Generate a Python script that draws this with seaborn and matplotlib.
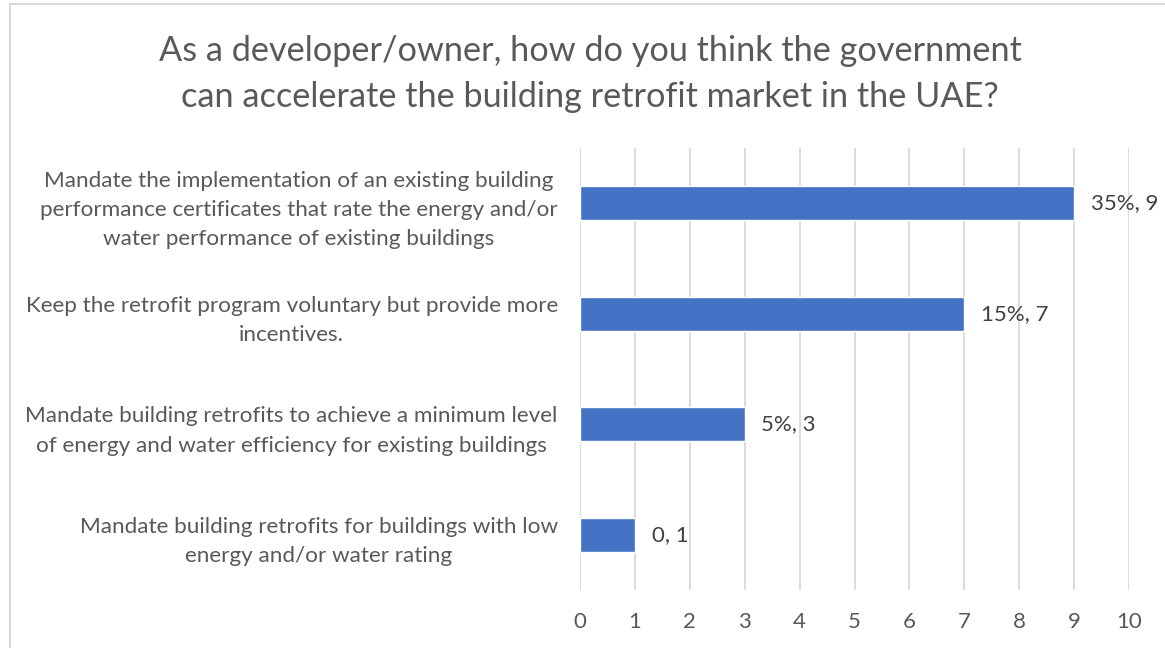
import matplotlib
matplotlib.use("Agg")
import matplotlib.pyplot as plt
import matplotlib.patches as mpatches
import seaborn as sns
import pandas as pd

categories = [
    "Mandate the implementation of an existing building\nperformance certificates that rate the energy and/or\nwater performance of existing buildings",
    "Keep the retrofit program voluntary but provide more\nincentives.",
    "Mandate building retrofits to achieve a minimum level\nof energy and water efficiency for existing buildings",
    "Mandate building retrofits for buildings with low\nenergy and/or water rating",
]
counts = [9, 7, 3, 1]
bar_labels = ["35%, 9", "15%, 7", "5%, 3", "0, 1"]
x_ticks = [0, 1, 2, 3, 4, 5, 6, 7, 8, 9, 10]
title = "As a developer/owner, how do you think the government\ncan accelerate the building retrofit market in the UAE?"

df = pd.DataFrame({"category": categories, "count": counts})

sns.set_theme(style="white")
plt.rcParams["font.family"] = ["Lato", "DejaVu Sans"]

text_color = "#595959"
grid_color = "#D9D9D9"
bar_color = "#4472C4"

fig = plt.figure(figsize=(11.65, 6.48), dpi=100)
ax = fig.add_axes([580 / 1165, 1 - 590 / 648, (1129 - 580) / 1165, (590 - 148) / 648])

sns.barplot(data=df, x="count", y="category", color=bar_color, width=0.31,
            saturation=1, ax=ax, orient="h")

ax.set_xlim(0, 10)
ax.set_xticks(x_ticks)
ax.set_xticklabels([str(t) for t in x_ticks], fontsize=16, color=text_color)
ax.tick_params(axis="x", length=0, pad=16)
ax.tick_params(axis="y", length=0, pad=16)
for lbl in ax.get_yticklabels():
    lbl.set_fontsize(16.2)
    lbl.set_color(text_color)
    lbl.set_multialignment("center")
    lbl.set_linespacing(1.58)
ax.xaxis.grid(True, color=grid_color, linewidth=1.3)
ax.set_axisbelow(True)
for s in ax.spines.values():
    s.set_visible(False)
ax.set_xlabel("")
ax.set_ylabel("")

for container in ax.containers:
    ax.bar_label(container, labels=bar_labels, padding=12, fontsize=16, color="#404040")

fig.text(590 / 1165, 1 - 74 / 648, title, ha="center", va="center", fontsize=24.7,
         color=text_color, linespacing=1.55)

# chart frame
frame = mpatches.Rectangle((9.5 / 1165, -0.05), 1.1, 1 - 4 / 648 + 0.05,
                           transform=fig.transFigure, fill=False,
                           edgecolor="#D9D9D9", linewidth=1.5)
fig.patches.append(frame)

fig.savefig("out.png", dpi=100)
